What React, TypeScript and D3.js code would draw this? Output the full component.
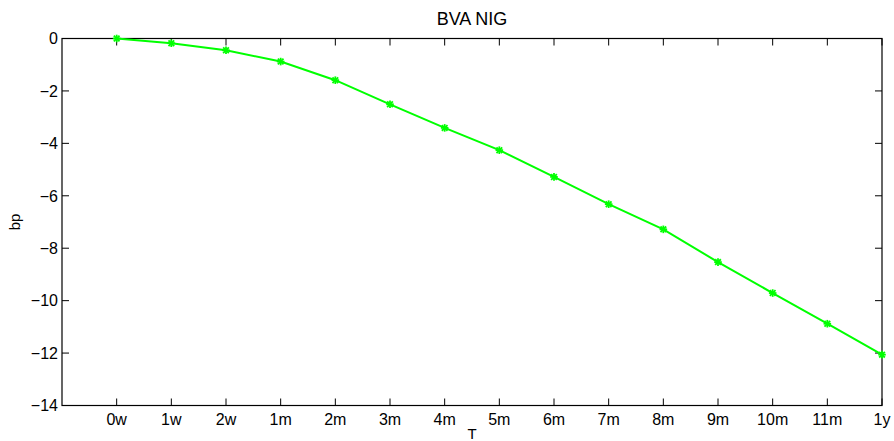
import React from "react";
import * as d3 from "d3";

const tenors = ["0w", "1w", "2w", "1m", "2m", "3m", "4m", "5m", "6m", "7m", "8m", "9m", "10m", "11m", "1y"];
const bva = [0, -0.18, -0.45, -0.88, -1.59, -2.51, -3.41, -4.26, -5.28, -6.32, -7.28, -8.53, -9.71, -10.88, -12.06];
const yTicks = [0, -2, -4, -6, -8, -10, -12, -14];

const W = 894;
const H = 441;
const left = 62;
const right = 882;
const top = 38.5;
const bottom = 405.5;
const font = "'Liberation Sans', Arial, Helvetica, sans-serif";
const tickFs = 16;
const titleFs = 18;
const labelFs = 15;
const green = "#00ff00";

export default function App() {
  const x = d3.scaleLinear().domain([-1, tenors.length - 1]).range([left, right]);
  const y = d3.scaleLinear().domain([-14, 0]).range([bottom, top]);
  const line = d3
    .line<number>()
    .x((_, i) => x(i))
    .y((d) => y(d));
  const tickLen = 7;
  const r = 3.8;

  return (
    <svg
      width={W}
      height={H}
      style={{ position: "absolute", left: 0, top: 0, background: "#fff" }}
      fontFamily={font}
    >
      <rect x={0} y={0} width={W} height={H} fill="#fff" />
      {/* x ticks, bottom and top */}
      {tenors.map((t, i) => (
        <g key={t}>
          <line x1={x(i)} x2={x(i)} y1={bottom} y2={bottom - tickLen} stroke="#000" strokeWidth={1} />
          <line x1={x(i)} x2={x(i)} y1={top} y2={top + tickLen} stroke="#000" strokeWidth={1} />
          <text x={x(i)} y={425} textAnchor="middle" fill="#000" fontSize={tickFs}>
            {t}
          </text>
        </g>
      ))}
      {/* y ticks, left and right */}
      {yTicks.map((v) => (
        <g key={v}>
          <line x1={left} x2={left + tickLen} y1={y(v)} y2={y(v)} stroke="#000" strokeWidth={1} />
          <line x1={right} x2={right - tickLen} y1={y(v)} y2={y(v)} stroke="#000" strokeWidth={1} />
          <text x={left - 4} y={y(v)} dy="0.36em" textAnchor="end" fill="#000" fontSize={tickFs}>
            {v < 0 ? "\u2212" + Math.abs(v) : String(v)}
          </text>
        </g>
      ))}
      <rect x={left} y={top} width={right - left} height={bottom - top} fill="none" stroke="#000" strokeWidth={1.2} />
      <path d={line(bva) ?? ""} fill="none" stroke={green} strokeWidth={2} />
      {bva.map((v, i) => {
        const cx = x(i);
        const cy = y(v);
        const dd = r * 0.75;
        return (
          <g key={i} stroke={green} strokeWidth={1.8}>
            <line x1={cx - r} x2={cx + r} y1={cy} y2={cy} />
            <line x1={cx} x2={cx} y1={cy - r} y2={cy + r} />
            <line x1={cx - dd} x2={cx + dd} y1={cy - dd} y2={cy + dd} />
            <line x1={cx - dd} x2={cx + dd} y1={cy + dd} y2={cy - dd} />
          </g>
        );
      })}
      <text x={(left + right) / 2} y={25} textAnchor="middle" fill="#000" fontSize={titleFs}>
        BVA NIG
      </text>
      <text x={(left + right) / 2} y={439} textAnchor="middle" fill="#000" fontSize={labelFs}>
        T
      </text>
      <text
        transform={`translate(20, ${(top + bottom) / 2}) rotate(-90)`}
        textAnchor="middle"
        fill="#000"
        fontSize={labelFs}
      >
        bp
      </text>
    </svg>
  );
}
